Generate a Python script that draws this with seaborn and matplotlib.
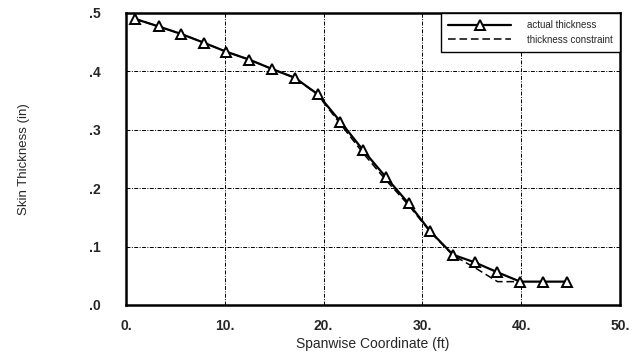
import matplotlib
matplotlib.use("Agg")
import matplotlib.pyplot as plt
import seaborn as sns
import pandas as pd

# ---- data ----
actual_x = [0.9, 3.3, 5.6, 7.9, 10.1, 12.5, 14.8, 17.1, 19.4, 21.7,
            24.0, 26.3, 28.6, 30.8, 33.1, 35.3, 37.6, 39.9, 42.2, 44.6]
actual_y = [0.490, 0.477, 0.464, 0.449, 0.434, 0.420, 0.404, 0.389, 0.361, 0.314,
            0.265, 0.219, 0.174, 0.126, 0.086, 0.073, 0.056, 0.040, 0.040, 0.040]

constraint_x = [0.9, 3.3, 5.6, 7.9, 10.1, 12.5, 14.8, 17.1, 19.4, 21.7,
                24.0, 26.3, 28.6, 30.8, 33.1, 35.3, 37.6, 39.9]
constraint_y = [0.490, 0.477, 0.464, 0.449, 0.434, 0.420, 0.404, 0.389, 0.360, 0.310,
                0.260, 0.214, 0.171, 0.125, 0.085, 0.064, 0.040, 0.040]

x_ticks = [0, 10, 20, 30, 40, 50]
x_tick_labels = ["0.", "10.", "20.", "30.", "40.", "50."]
y_ticks = [0.0, 0.1, 0.2, 0.3, 0.4, 0.5]
y_tick_labels = [".0", ".1", ".2", ".3", ".4", ".5"]

x_label = "Spanwise Coordinate (ft)"
y_label = "Skin Thickness (in)"
label_actual = "actual thickness"
label_constraint = "thickness constraint"

# ---- style ----
sns.set_theme(style="white")
plt.rcParams["font.family"] = ["Liberation Sans", "DejaVu Sans"]

fig = plt.figure(figsize=(6.32, 3.58), dpi=100)
ax = fig.add_axes([126 / 632, 1 - 305 / 358, (620 - 126) / 632, (305 - 13) / 358])

df_a = pd.DataFrame({"x": actual_x, "y": actual_y})
df_c = pd.DataFrame({"x": constraint_x, "y": constraint_y})

sns.lineplot(data=df_c, x="x", y="y", ax=ax, color="black", linewidth=1.1,
             linestyle=(0, (5, 2.5)), label=label_constraint, zorder=3)
sns.lineplot(data=df_a, x="x", y="y", ax=ax, color="black", linewidth=1.6,
             marker="^", markersize=7, markerfacecolor="white",
             markeredgecolor="black", markeredgewidth=1.4,
             label=label_actual, zorder=4)

ax.set_xlim(0, 50)
ax.set_ylim(0, 0.5)
ax.set_xticks(x_ticks)
ax.set_xticklabels(x_tick_labels, fontsize=10, fontweight="bold")
ax.set_yticks(y_ticks)
ax.set_yticklabels(y_tick_labels, fontsize=10, fontweight="bold")
ax.tick_params(axis="x", length=0, pad=10)
ax.tick_params(axis="y", length=0, pad=18)

ax.set_xlabel(x_label, fontsize=10, labelpad=3)
ax.set_ylabel(y_label, fontsize=9.5, labelpad=43)

ax.grid(True, color="black", linestyle=(0, (4, 1.5, 1, 1.5)), linewidth=0.7)
ax.set_axisbelow(True)
for s in ax.spines.values():
    s.set_color("black")
    s.set_linewidth(1.8)

handles, labels = ax.get_legend_handles_labels()
order = [labels.index(label_actual), labels.index(label_constraint)]
leg = ax.legend([handles[i] for i in order], [labels[i] for i in order],
                loc="upper right", bbox_to_anchor=(1.0, 1.0), borderaxespad=0,
                frameon=True, fancybox=False, framealpha=1, edgecolor="black",
                fontsize=7, handlelength=6.5, handletextpad=1.6,
                borderpad=0.75, labelspacing=0.45)
leg.get_frame().set_linewidth(1.0)

fig.savefig("out.png", dpi=100)
